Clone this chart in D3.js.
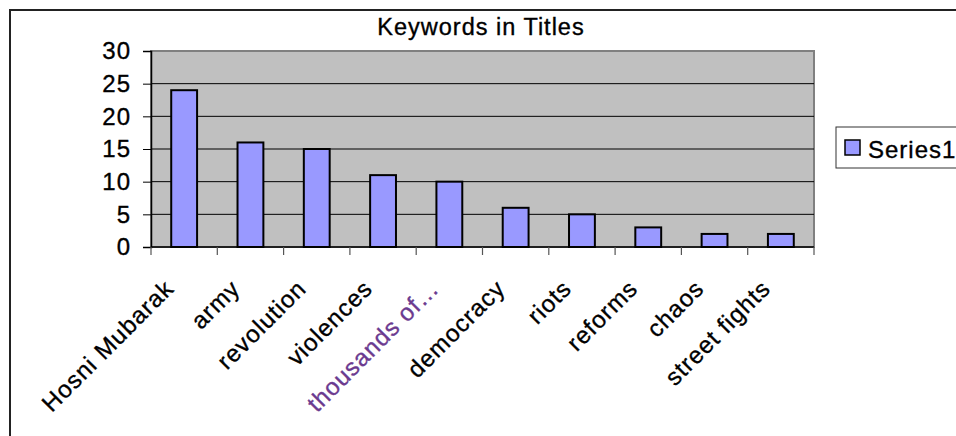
<!DOCTYPE html>
<html>
<head>
<meta charset="utf-8">
<script src="https://cdn.jsdelivr.net/npm/d3@7"></script>
<style>
  html, body { margin: 0; padding: 0; background: #fff; }
  svg { display: block; font-family: "Liberation Sans", Arial, sans-serif; }
  text { stroke-width: 0.35px; }
</style>
</head>
<body>
<svg id="chart" width="956" height="436"></svg>
<script>
const title = "Keywords in Titles";
const categories = ["Hosni Mubarak", "army", "revolution", "violences", "thousands of…", "democracy", "riots", "reforms", "chaos", "street fights"];
const series1 = [24, 16, 15, 11, 10, 6, 5, 3, 2, 2];
const seriesName = "Series1";
const yTicks = [0, 5, 10, 15, 20, 25, 30];

const svg = d3.select("#chart");
const plot = { left: 151, right: 814, top: 51, bottom: 247 };

// outer chart border
svg.append("path")
  .attr("d", "M10,440 L10,10 L960,10")
  .attr("fill", "none").attr("stroke", "#222").attr("stroke-width", 2);

// title
svg.append("text")
  .attr("x", 481).attr("y", 35)
  .attr("text-anchor", "middle")
  .attr("font-size", 23.5).attr("letter-spacing", 1)
  .attr("fill", "#000").attr("stroke", "#000")
  .text(title);

const y = d3.scaleLinear().domain([0, 30]).range([plot.bottom, plot.top]);
const xCat = d3.scaleBand().domain(categories).range([plot.left, plot.right]).padding(0);
const xBar = d3.scaleBand().domain(categories).range([plot.left, plot.right])
  .paddingInner(0.61).paddingOuter(0.305);

// plot background
svg.append("rect")
  .attr("x", plot.left).attr("y", plot.top)
  .attr("width", plot.right - plot.left).attr("height", plot.bottom - plot.top)
  .attr("fill", "#c0c0c0").attr("stroke", "#808080").attr("stroke-width", 2);

// gridlines
svg.append("g").selectAll("line")
  .data(yTicks.filter(t => t > 0 && t < 30))
  .join("line")
  .attr("x1", plot.left).attr("x2", plot.right)
  .attr("y1", d => y(d)).attr("y2", d => y(d))
  .attr("stroke", "#000").attr("stroke-width", 1);

// bars
svg.append("g").selectAll("rect")
  .data(series1)
  .join("rect")
  .attr("x", (d, i) => xBar(categories[i]))
  .attr("y", d => y(d))
  .attr("width", xBar.bandwidth())
  .attr("height", d => y(0) - y(d))
  .attr("fill", "#9999ff").attr("stroke", "#000").attr("stroke-width", 2);

// y axis
const yAxis = d3.axisLeft(y).tickValues(yTicks).tickSize(8).tickPadding(12);
const gy = svg.append("g").attr("transform", `translate(${plot.left},0)`).call(yAxis);
gy.select(".domain").attr("stroke", "#000").attr("stroke-width", 1.5);
gy.selectAll(".tick line").attr("stroke", "#000");
gy.selectAll(".tick text")
  .attr("font-size", 24).attr("font-family", "Liberation Sans, Arial, sans-serif")
  .attr("letter-spacing", 1).attr("fill", "#000").attr("stroke", "#000");

// x axis: line + boundary ticks
const boundaries = categories.map(c => xCat(c)).concat([plot.right]);
svg.append("line")
  .attr("x1", plot.left).attr("x2", plot.right)
  .attr("y1", plot.bottom).attr("y2", plot.bottom)
  .attr("stroke", "#000").attr("stroke-width", 1.5);
svg.append("g").selectAll("line")
  .data(boundaries)
  .join("line")
  .attr("x1", d => d).attr("x2", d => d)
  .attr("y1", plot.bottom).attr("y2", plot.bottom + 8)
  .attr("stroke", "#555").attr("stroke-width", 1.2);

// x labels
svg.append("g").selectAll("text")
  .data(categories)
  .join("text")
  .attr("transform", d => `translate(${xCat(d) + xCat.bandwidth() / 2 - 9},${290}) rotate(-45)`)
  .attr("text-anchor", "end")
  .attr("font-size", 24).attr("letter-spacing", 1)
  .attr("fill", d => d.startsWith("thousands") ? "#6b3a8f" : "#000")
  .attr("stroke", d => d.startsWith("thousands") ? "#6b3a8f" : "#000")
  .text(d => d);

// legend
const lg = svg.append("g");
lg.append("rect")
  .attr("x", 836).attr("y", 127).attr("width", 140).attr("height", 41)
  .attr("fill", "#fff").attr("stroke", "#333").attr("stroke-width", 1);
lg.append("rect")
  .attr("x", 845).attr("y", 140).attr("width", 15).attr("height", 15)
  .attr("fill", "#9999ff").attr("stroke", "#000").attr("stroke-width", 1.5);
lg.append("text")
  .attr("x", 868).attr("y", 158)
  .attr("font-size", 24).attr("letter-spacing", 1)
  .attr("fill", "#000").attr("stroke", "#000")
  .text(seriesName);
</script>
</body>
</html>
